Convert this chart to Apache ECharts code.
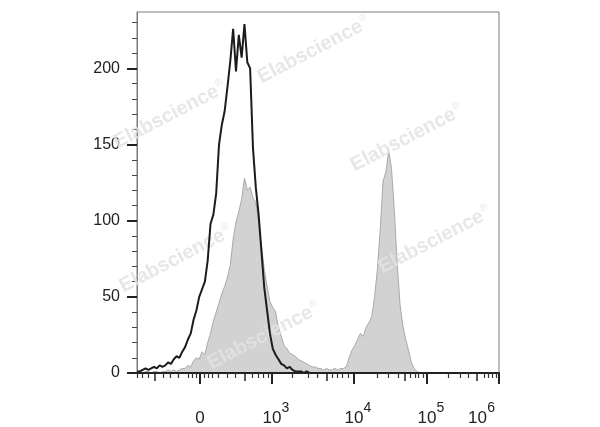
<!DOCTYPE html>
<html><head><meta charset="utf-8">
<script src="https://cdn.jsdelivr.net/npm/echarts@6/dist/echarts.min.js"></script>
<style>html,body{margin:0;padding:0;background:#fff}#c{width:600px;height:427px}</style>
</head><body><div id="c"></div>
<script>
// Display scale: channels 0..1024 (biexponential axis), histogram bins of 8 channels
const binWidth = 8;
const blackCounts = [1,1,2,3,2,3,4,3,5,4,5,7,6,9,11,10,14,17,22,26,35,41,50,55,60,74,98,104,118,150,163,172,188,205,226,198,222,207,229,204,200,148,122,104,80,56,41,26,16,12,9,6,5,3,4,2,1,1,1,0,1,0,0,0,0,0,0,0,0,0,0,0,0,0,0,0,0,0,0,0,0,0,0,0,0,0,0,0,0,0,0,0,0,0,0,0,0,0,0,0,0,0,0,0,0,0,0,0,0,0,0,0,0,0,0,0,0,0,0,0,0,0,0,0,0,0,0,0,0];
const grayCounts = [0,1,0,1,1,0,1,1,0,1,1,2,1,2,1,2,3,3,5,4,8,10,9,14,12,20,26,34,40,46,52,57,63,71,88,99,106,114,128,120,122,115,112,100,84,68,57,47,43,40,30,24,18,16,13,12,11,9,8,7,6,5,4,4,3,3,2,3,2,2,3,2,3,3,4,10,15,18,22,26,24,30,33,37,50,68,94,126,132,146,134,106,72,45,31,22,15,7,3,1,0,0,0,0,0,0,0,0,0,0,0,0,0,0,0,0,0,0,0,0,0,0,0,0,0,0,0,0,0];

const yMajorTicks = [0,50,100,150,200];
const yMinorTicks = [10,20,30,40,60,70,80,90,110,120,130,140,160,170,180,190,210,220,230];
const xMajorTicks = [178,382,614,820,1024];
const xLabelBase = ['0','10','10','10','10'];
const xLabelExp = ['','3','4','5','6'];
const xMediumTicks = [51,306,537,758,962];
const xMinorTicks = [0,14,31,74,93,116,144,156,167,189,201,212,229,255,277,325,342,356,370,
  439,484,509,552,566,580,597,679,710,738,772,786,795,809,880,914,936,982,993,1004,1015];
const watermarks = [[314,50],[170,115],[407,138],[435,240],[176,259],[264,336]];

const toPairs = arr => arr.map((v,i)=>[i*binWidth, v]);
const FONT = 'Liberation Sans, Arial, sans-serif';

const chart = echarts.init(document.getElementById('c'), null, {renderer:'canvas'});
const xBase = {type:'value', min:0, max:1024, position:'bottom', splitLine:{show:false}};
const yBase = {type:'value', min:0, max:237, position:'left', splitLine:{show:false}};

chart.setOption({
  animation:false,
  backgroundColor:'#fff',
  grid:{left:137, right:101, top:12, bottom:54, show:true, borderColor:'#7a7a7a', borderWidth:1},
  xAxis:[
    Object.assign({}, xBase, {
      z:5,
      axisLine:{show:true, lineStyle:{color:'#222', width:2}},
      axisTick:{show:true, customValues:xMajorTicks, length:11, lineStyle:{color:'#222', width:2}},
      axisLabel:{show:true, customValues:xMajorTicks, margin:28, alignMaxLabel:'right',
        formatter:function(v){
          let idx = 0, best = 1e9;
          xMajorTicks.forEach((t,i)=>{ if(Math.abs(t-v)<best){best=Math.abs(t-v); idx=i;} });
          const b = xLabelBase[idx], e = xLabelExp[idx];
          if (idx === xMajorTicks.length-1) return '{b|'+b+'}{s|'+e+'}{q| }';
          return '{p| }{b|'+b+'}{s|'+(e||' ')+'}';
        },
        rich:{
          b:{fontSize:17, fontFamily:FONT, color:'#222', verticalAlign:'bottom'},
          s:{fontSize:14, fontFamily:FONT, color:'#222', width:8, verticalAlign:'top', padding:[0,0,12,0]},
          p:{fontSize:14, width:8},
          q:{fontSize:14, width:4}
        }
      }
    }),
    Object.assign({}, xBase, {
      z:5,
      axisLine:{show:false},
      axisTick:{show:true, customValues:xMediumTicks, length:8, lineStyle:{color:'#222', width:1.5}},
      axisLabel:{show:false}
    }),
    Object.assign({}, xBase, {
      z:5,
      axisLine:{show:false},
      axisTick:{show:true, customValues:xMinorTicks, length:5, lineStyle:{color:'#333', width:1.2}},
      axisLabel:{show:false}
    })
  ],
  yAxis:[
    Object.assign({}, yBase, {
      axisLine:{show:true, lineStyle:{color:'#7a7a7a', width:1}},
      axisTick:{show:true, customValues:yMajorTicks, length:10, lineStyle:{color:'#222', width:2}},
      axisLabel:{show:true, customValues:yMajorTicks, margin:17, fontSize:16, fontFamily:FONT, color:'#222'}
    }),
    Object.assign({}, yBase, {
      axisLine:{show:false},
      axisTick:{show:true, customValues:yMinorTicks, length:5, lineStyle:{color:'#444', width:1}},
      axisLabel:{show:false}
    })
  ],
  graphic: watermarks.map(p => ({
    type:'text', x:p[0], y:p[1], rotation:0.48, z:3,
    style:{
      text:'{a|Elabscience}{r|®}',
      align:'center', verticalAlign:'middle',
      rich:{
        a:{fontSize:20, fontWeight:'bold', fontFamily:FONT, fill:'#e3e3e3'},
        r:{fontSize:10, fontFamily:FONT, fill:'#e3e3e3', padding:[0,0,12,1]}
      },
      opacity:0.85
    }
  })),
  series:[
    {type:'line', xAxisIndex:0, yAxisIndex:0, data:toPairs(grayCounts), showSymbol:false, symbol:'none', z:2,
      lineStyle:{color:'#a9a9a9', width:1}, areaStyle:{color:'#d2d2d2', opacity:1}},
    {type:'line', xAxisIndex:0, yAxisIndex:0, data:toPairs(blackCounts), showSymbol:false, symbol:'none', z:4,
      lineStyle:{color:'#1c1c1c', width:2}}
  ]
});
</script>
</body></html>
